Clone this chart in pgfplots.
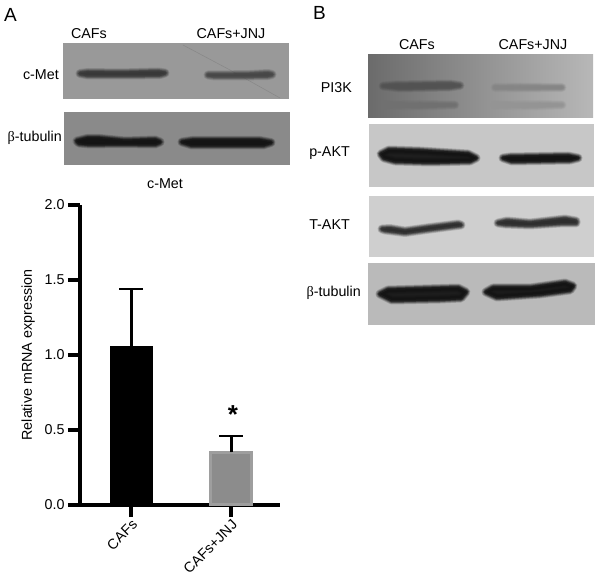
\documentclass[border=0pt]{standalone}
\usepackage{pgfplots}
\pgfplotsset{compat=1.18}
\usepackage{fontspec}
\setmainfont{Liberation Sans}
\newfontfamily\symfont{Liberation Serif}
\newcommand{\lab}{\fontsize{14.3}{16}\selectfont}
\newcommand{\btub}{{\symfont β}-tubulin}

% soft-edged blot band: inner outline in image pixels, stacked strokes for the blur
\pgfplotsset{bandlayer/.style={line join=round, line cap=round}}
\newcommand{\band}[2]{%
  \addplot[bandlayer, draw=#1, fill=#1, line width=9pt, opacity=.18] coordinates {#2} --cycle;
  \addplot[bandlayer, draw=#1, fill=#1, line width=7.5pt, opacity=.25] coordinates {#2} --cycle;
  \addplot[bandlayer, draw=#1, fill=#1, line width=6pt, opacity=.35] coordinates {#2} --cycle;
  \addplot[bandlayer, draw=#1, fill=#1, line width=4.5pt, opacity=.5] coordinates {#2} --cycle;
  \addplot[bandlayer, draw=#1, fill=#1, line width=3pt, opacity=.7] coordinates {#2} --cycle;
}
\newcommand{\panel}[5]{% x0 y0 x1 y1 colour
  \addplot[draw=none, fill=#5] coordinates {(#1,#2) (#3,#2) (#3,#4) (#1,#4)} --cycle;
}

\begin{document}
\begin{tikzpicture}
\path (0pt,0pt) rectangle (602pt,583pt);

% blots, in image pixel coordinates
\begin{axis}[
    at={(0pt,0pt)}, anchor=south west,
    scale only axis, width=602pt, height=583pt,
    xmin=0, xmax=602, ymin=0, ymax=583, y dir=reverse,
    hide axis, clip=false,
]
% A
\panel{63}{43}{289}{99}{black!40}
\addplot[black!50, line width=.5pt, opacity=.7] coordinates {(183,45) (230,70) (280,98)};
\band{black!78}{(80,73.5) (88,72.5) (120,73) (158,72) (165,73) (160,74.5) (130,75) (88,75)}
\band{black!72}{(208,75) (218,75) (250,74.5) (268,73.5) (272,74.5) (268,75.5) (240,76) (215,76)}
\panel{64}{112}{290}{165}{black!46}
\band{black!92}{(77,141) (87,138.5) (100,138.5) (125,141) (155,140) (160,142) (155,144) (120,143.5) (90,144) (79,143)}
\band{black!92}{(182,142) (192,140.5) (260,140.5) (271,142.5) (263,145) (192,145)}
% B
\addplot[draw=none, left color=black!58, middle color=black!47, right color=black!28] coordinates {(368,55) (593,55) (593,118) (368,118)} --cycle;
\band{black!68}{(383,86) (395,85) (450,84) (460,85.5) (450,87) (400,88)}
\band{black!56}{(385,105) (420,104.5) (455,105) (420,106)}
\band{black!48}{(495,87.5) (520,87) (562,87.5) (520,88)}
\band{black!42}{(495,105) (540,104.5) (562,105) (530,106)}
\panel{369}{124}{594}{187}{black!22}
\band{black!92}{(381,154) (389,150) (420,151) (468,154) (476,158) (470,161) (430,162) (395,161) (384,158)}
\band{black!92}{(503,158) (510,157) (568,156) (578,158) (570,160) (512,161)}
\panel{369}{196}{594}{257}{black!19}
\band{black!82}{(382,229) (390,228.5) (405,231) (430,227.5) (458,224) (461,225) (453,226) (430,229) (405,232.5) (385,230)}
\band{black!82}{(498,223) (507,221) (530,223) (565,219) (576,221) (576,223) (560,223) (530,225) (505,224)}
\panel{368}{263}{595}{325}{black!27}
\band{black!92}{(380,294) (388,290) (458,288) (466,292) (461,298) (440,299) (392,300)}
\band{black!92}{(486,292) (493,288) (530,288) (565,283) (573,286) (570,290) (540,294) (497,297)}

% text
\node[font=\fontsize{19}{21}\selectfont] at (axis cs:10.5,14.5) {A};
\node[font=\fontsize{19}{21}\selectfont] at (axis cs:319.5,13) {B};
\node[font=\lab] at (axis cs:89,34) {CAFs};
\node[font=\lab] at (axis cs:231,34) {CAFs+JNJ};
\node[font=\lab, anchor=east, inner sep=0pt] at (axis cs:59,75) {c-Met};
\node[font=\lab, anchor=east, inner sep=0pt] at (axis cs:62,138) {\btub};
\node[font=\lab] at (axis cs:165,184) {c-Met};
\node[font=\lab] at (axis cs:417,45) {CAFs};
\node[font=\lab] at (axis cs:533,45) {CAFs+JNJ};
\node[font=\lab, anchor=east, inner sep=0pt] at (axis cs:352,88) {PI3K};
\node[font=\lab, anchor=east, inner sep=0pt] at (axis cs:350,153) {p-AKT};
\node[font=\lab, anchor=east, inner sep=0pt] at (axis cs:350,225) {T-AKT};
\node[font=\lab, anchor=east, inner sep=0pt] at (axis cs:361,293) {\btub};
\end{axis}

% bar chart
\begin{axis}[
    at={(80pt,78pt)}, anchor=south west,
    scale only axis, width=200pt, height=300pt,
    xmin=0.49, xmax=2.49, ymin=0, ymax=2,
    axis lines=left,
    axis line style={-, line width=4.5pt},
    xtick={1,2}, xticklabels={CAFs,CAFs+JNJ},
    ytick={0,0.5,1,1.5,2},
    yticklabel style={/pgf/number format/fixed, /pgf/number format/fixed zerofill, /pgf/number format/precision=1, /pgf/number format/assume math mode=true, font=\lab},
    xticklabel style={rotate=45, anchor=north east, font=\lab, inner sep=1pt},
    tick align=outside,
    major tick length=12pt,
    tick style={black, line width=3.5pt},
    ylabel={Relative mRNA expression},
    ylabel style={font=\lab},
    ylabel shift=3pt,
    clip=false,
    ybar, bar shift=0pt, bar width=41pt,
]
\addplot[fill=black, draw=black, line width=2pt,
    error bars/.cd, y dir=plus, y explicit,
    error bar style={black, line width=3pt},
    error mark options={black, rotate=90, mark size=12pt, line width=2.5pt}]
    coordinates {(1,1.05) +- (0,0.39)};
\addplot[fill=black!45, draw=black!38, line width=3pt,
    error bars/.cd, y dir=plus, y explicit,
    error bar style={black, line width=3pt},
    error mark options={black, rotate=90, mark size=12pt, line width=2.5pt}]
    coordinates {(2,0.35) +- (0,0.11)};
\node[font=\fontsize{26}{28}\bfseries\selectfont] at (axis cs:2.02,0.60) {*};
\end{axis}
\end{tikzpicture}
\end{document}
